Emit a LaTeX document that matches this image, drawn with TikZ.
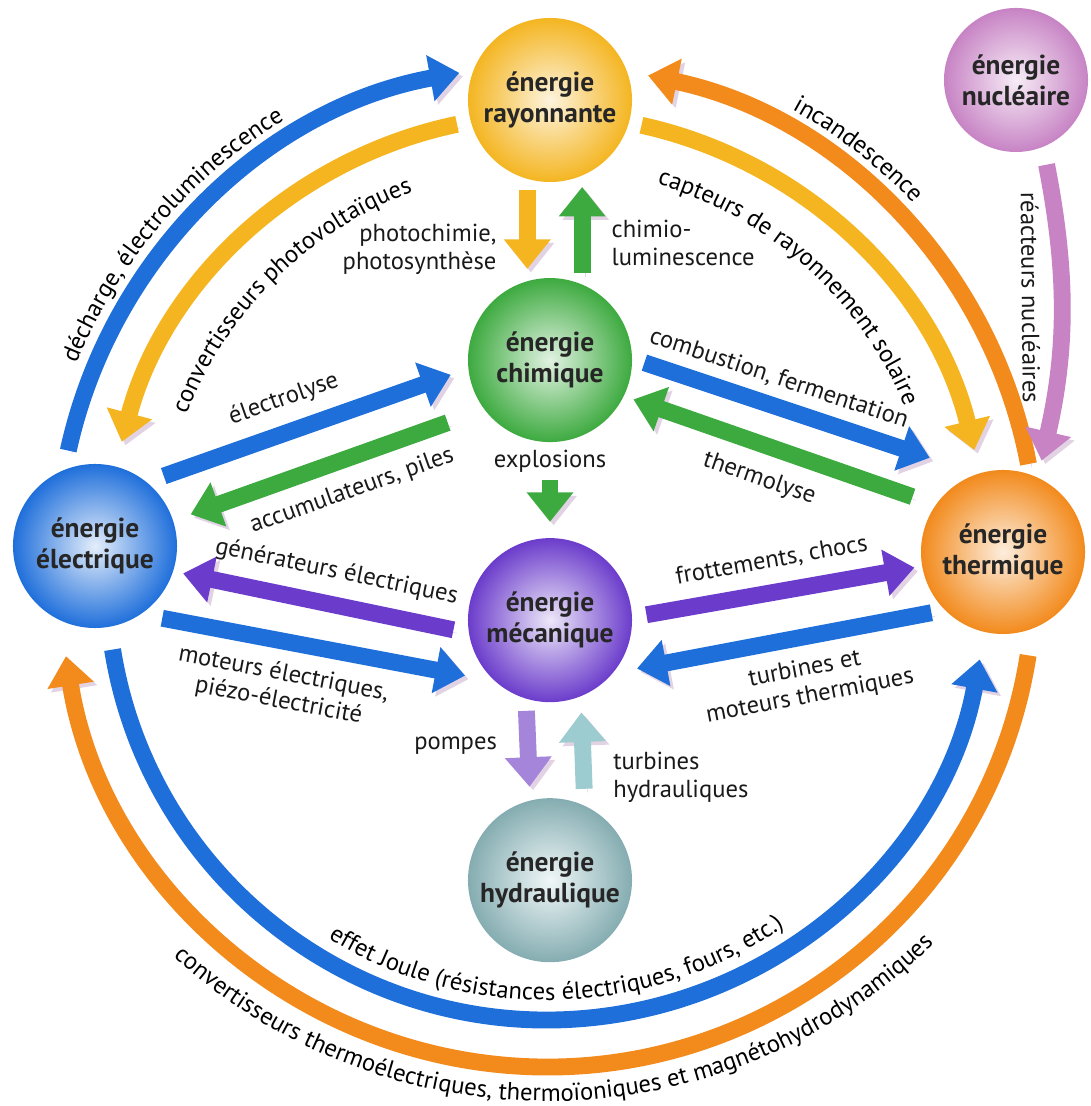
\documentclass[tikz,border=0pt]{standalone}
\usepackage{fontspec}
\setmainfont{PT Sans}
\usetikzlibrary{arrows.meta,decorations.text}

\definecolor{elecblue}{HTML}{1F6FDB}
\definecolor{sunyellow}{HTML}{F4B521}
\definecolor{heatorange}{HTML}{F28A1C}
\definecolor{chemgreen}{HTML}{3DAA3F}
\definecolor{mechpurple}{HTML}{6B3CCB}
\definecolor{pumplilac}{HTML}{A585DA}
\definecolor{waterteal}{HTML}{9CCBD0}
\definecolor{nucpink}{HTML}{C783C4}
\definecolor{shade}{HTML}{E2D3E4}

\newcommand{\nodefont}{\fontsize{19.5}{22}\selectfont\bfseries}
\newcommand{\lblfont}{\fontsize{17.5}{19.5}\selectfont}

\tikzset{
  sphere/.style 2 args={circle, minimum size=4.1cm, inner sep=0pt, align=center,
    inner color=#1, outer color=#2, font=\nodefont, text=black!85},
  flow/.style={draw=#1, line width=12pt, -{Triangle[width=32pt,length=21pt]},
    preaction={draw=shade, transform canvas={shift={(2.5pt,-2.5pt)}}}},
  lbl/.style={font=\lblfont, text=black!90, inner sep=2pt},
  arclbl/.style={decorate, decoration={text along path, text align=center,
    text={|\lblfont|#1}}},
}

\begin{document}
\begin{tikzpicture}[x=0.025cm, y=0.025cm, node distance=6.5cm]
\useasboundingbox (0,0) rectangle (1091,1106);

% the seven forms of energy
\node[sphere={sunyellow!15!white}{sunyellow}] (ray) at (550,1006) {énergie\\rayonnante};
\node[sphere={chemgreen!15!white}{chemgreen}] (chim) [below of=ray] {énergie\\chimique};
\node[sphere={mechpurple!12!white}{mechpurple}] (meca) [below of=chim] {énergie\\mécanique};
\node[sphere={waterteal!15!white}{waterteal!85!black}] (hydr) [below of=meca] {énergie\\hydraulique};
\node[sphere={elecblue!12!white}{elecblue}] (elec) at (95,560) {énergie\\électrique};
\node[sphere={heatorange!15!white}{heatorange}] (therm) at (1003,554) {énergie\\thermique};
\node[sphere={nucpink!15!white}{nucpink}, minimum size=3.6cm] (nucl) at (1016,1026) {énergie\\nucléaire};

% centres of the big rings
\coordinate (up) at (547,551);
\coordinate (low) at (547,526);

% outer rings
\draw[flow=elecblue] ([shift={(167.7:490)}]up) arc[start angle=167.7, end angle=100.3, radius=490];
\draw[flow=sunyellow] ([shift={(101.8:440)}]up) arc[start angle=101.8, end angle=165.1, radius=440];
\draw[flow=heatorange] ([shift={(10.7:490)}]up) arc[start angle=10.7, end angle=78.1, radius=490];
\draw[flow=sunyellow] ([shift={(77.6:440)}]up) arc[start angle=77.6, end angle=13.8, radius=440];
\draw[flow=elecblue] ([shift={(189.1:440)}]low) arc[start angle=189.1, end angle=349.6, radius=440];
\draw[flow=heatorange] ([shift={(-8.9:487)}]low) arc[start angle=-8.9, end angle=-171, radius=487];

\path[arclbl={décharge, électroluminescence}] ([shift={(178:508)}]up) arc[start angle=178, end angle=101, radius=508];
\path[arclbl={convertisseurs photovoltaïques}] ([shift={(181:387)}]up) arc[start angle=181, end angle=88, radius=387];
\path[arclbl={incandescence}] ([shift={(75:508)}]up) arc[start angle=75, end angle=30, radius=508];
\path[arclbl={capteurs de rayonnement solaire}] ([shift={(97:387)}]up) arc[start angle=97, end angle=-1, radius=387];
\path[arclbl={effet Joule (résistances électriques, fours, etc.)}] ([shift={(200:420)}]low) arc[start angle=200, end angle=343, radius=420];
\path[arclbl={convertisseurs thermoélectriques, thermoïoniques et magnétohydrodynamiques}] ([shift={(198:540 and 521)}]low) arc[start angle=198, end angle=344, x radius=540, y radius=521];

% vertical exchanges
\draw[flow=sunyellow, shorten <=0.28cm, shorten >=0.3cm] (ray.254) -- node[lbl, left=14pt, pos=.69, align=right] {photochimie,\\photosynthèse} (chim.106);
\draw[flow=chemgreen, shorten <=0.28cm, shorten >=0.28cm] (chim.67) -- node[lbl, right=13pt, pos=.38, align=left] {chimio-\\luminescence} (ray.293);
\draw[flow=chemgreen, shorten <=0.93cm, shorten >=0.4cm] (chim.270) -- node[lbl, pos=.2] {explosions} (meca.90);
\draw[flow=pumplilac, shorten <=0.3cm, shorten >=0.34cm] (meca.253) -- node[lbl, left=14pt, pos=.46] {pompes} (hydr.104);
\draw[flow=waterteal, shorten <=0.42cm, shorten >=0.4cm] (hydr.65) -- node[lbl, right=13pt, pos=.26, align=left] {turbines\\hydrauliques} (meca.292);

% diagonal exchanges
\draw[flow=elecblue, shorten <=0.45cm, shorten >=0.46cm] (elec.51) -- node[lbl, sloped, above=7pt, pos=.46] {électrolyse} (chim.186);
\draw[flow=chemgreen, shorten <=0.97cm, shorten >=0.46cm] (chim.217) -- node[lbl, sloped, below=7pt, pos=.46] {accumulateurs, piles} (elec.18);
\draw[flow=mechpurple, shorten <=0.39cm, shorten >=0.25cm] (meca.189) -- node[lbl, sloped, above=7pt, pos=.47] {générateurs électriques} (elec.342);
\draw[flow=elecblue, shorten <=0.54cm, shorten >=0.76cm] (elec.304) -- node[lbl, sloped, below=7pt, pos=.42, align=center] {moteurs électriques,\\piézo-électricité} (meca.228);
\draw[flow=elecblue, shorten <=0.32cm, shorten >=1.26cm] (chim.1.5) -- node[lbl, sloped, above=4pt, pos=.4] {combustion, fermentation} (therm.108);
\draw[flow=chemgreen, shorten <=0.61cm, shorten >=0.25cm] (therm.145) -- node[lbl, sloped, below=8pt, pos=.53] {thermolyse} (chim.334);
\draw[flow=mechpurple, shorten <=0.36cm, shorten >=0.19cm] (meca.2.5) -- node[lbl, sloped, above=7pt, pos=.5] {frottements, chocs} (therm.190);
\draw[flow=elecblue, shorten <=0.34cm, shorten >=0.61cm] (therm.225.5) -- node[lbl, sloped, below=7pt, pos=.44, align=center] {turbines et\\moteurs thermiques} (meca.320);

% nuclear
\draw[flow=nucpink, shorten <=0.45cm, shorten >=0.43cm] (nucl.292) to[bend left=12] node[lbl, sloped, allow upside down, below=7pt, pos=.45] {réacteurs nucléaires} (therm.65);
\end{tikzpicture}
\end{document}
